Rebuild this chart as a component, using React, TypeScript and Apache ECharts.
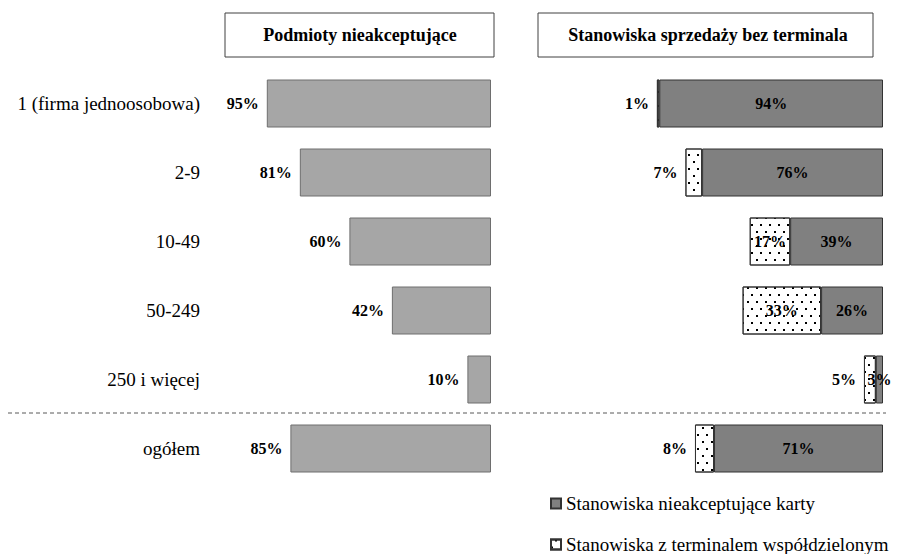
import React, { useEffect, useRef } from "react";
import * as echarts from "echarts";

const categories = [
  "1 (firma jednoosobowa)",
  "2-9",
  "10-49",
  "50-249",
  "250 i więcej",
  "ogółem",
];
const leftTitle = "Podmioty nieakceptujące";
const rightTitle = "Stanowiska sprzedaży bez terminala";
const nonAcceptingEntities = [95, 81, 60, 42, 10, 85];
const seriesNoCards = "Stanowiska nieakceptujące karty";
const seriesShared = "Stanowiska z terminalem współdzielonym";
const noCardsValues = [94, 76, 39, 26, 3, 71];
const sharedValues = [1, 7, 17, 33, 5, 8];
const sharedInsideLabel = [false, false, true, true, false, false];

const FONT = "'Liberation Serif', 'Times New Roman', serif";

export default function App() {
  const ref = useRef<HTMLDivElement>(null);
  useEffect(() => {
    document.body.style.margin = "0";
    const chart = echarts.init(ref.current!, null, { renderer: "svg" });
    const top = 69;
    const height = 414;
    const valueLabel = {
      show: true,
      formatter: "{c}%",
      fontFamily: FONT,
      fontWeight: "bold",
      fontSize: 16,
      color: "#000",
    };
    const legendBase = {
      left: 545,
      icon: "rect",
      itemWidth: 10,
      itemHeight: 10,
      itemGap: 0,
      textStyle: { fontFamily: FONT, fontSize: 19, color: "#000" },
    };
    chart.setOption({
      animation: false,
      backgroundColor: "#fff",
      textStyle: { fontFamily: FONT },
      grid: [
        { left: 255, width: 236, top, height },
        { left: 645, width: 238, top, height },
      ],
      xAxis: [
        { gridIndex: 0, type: "value", min: 0, max: 100, inverse: true, show: false },
        { gridIndex: 1, type: "value", min: 0, max: 100, inverse: true, show: false },
      ],
      yAxis: [
        {
          gridIndex: 0,
          type: "category",
          data: categories,
          inverse: true,
          position: "left",
          axisLine: { show: false, onZero: false },
          axisTick: { show: false },
          splitLine: { show: false },
          axisLabel: {
            margin: 55,
            fontFamily: FONT,
            fontSize: 19,
            color: "#000",
          },
        },
        {
          gridIndex: 1,
          type: "category",
          data: categories,
          inverse: true,
          show: false,
        },
      ],
      legend: [
        { ...legendBase, top: 489, data: [seriesNoCards] },
        { ...legendBase, top: 530, data: [seriesShared] },
      ],
      series: [
        {
          type: "bar",
          name: leftTitle,
          xAxisIndex: 0,
          yAxisIndex: 0,
          data: nonAcceptingEntities,
          barWidth: 48,
          itemStyle: { color: "#a6a6a6", borderColor: "#6e6e6e", borderWidth: 1 },
          label: { ...valueLabel, position: "left", distance: 8 },
        },
        {
          type: "bar",
          name: seriesNoCards,
          xAxisIndex: 1,
          yAxisIndex: 1,
          stack: "r",
          data: noCardsValues,
          barWidth: 48,
          itemStyle: { color: "#808080", borderColor: "#333", borderWidth: 1 },
          label: { ...valueLabel, position: "inside" },
        },
        {
          type: "bar",
          name: seriesShared,
          xAxisIndex: 1,
          yAxisIndex: 1,
          stack: "r",
          barWidth: 48,
          data: sharedValues.map((v, i) => ({
            value: v,
            label: sharedInsideLabel[i]
              ? { position: "inside" }
              : { position: "left", distance: 8 },
          })),
          itemStyle: {
            color: "#fff",
            borderColor: "#333",
            borderWidth: 1,
            decal: {
              symbol: "rect",
              symbolSize: 1,
              color: "#000",
              dashArrayX: [
                [1.5, 6.5],
                [0, 4, 1.5, 2.5],
              ],
              dashArrayY: [1.5, 4.5],
              rotation: 0,
            },
          },
          label: { ...valueLabel },
        },
      ],
      graphic: [
        {
          type: "rect",
          shape: { x: 225, y: 13, width: 269, height: 44 },
          style: { fill: "#fff", stroke: "#404040", lineWidth: 1 },
        },
        {
          type: "text",
          x: 360,
          y: 35,
          style: {
            text: leftTitle,
            font: `bold 18px ${FONT}`,
            fill: "#000",
            align: "center",
            verticalAlign: "middle",
          },
        },
        {
          type: "rect",
          shape: { x: 538, y: 13, width: 335, height: 44 },
          style: { fill: "#fff", stroke: "#404040", lineWidth: 1 },
        },
        {
          type: "text",
          x: 708,
          y: 35,
          style: {
            text: rightTitle,
            font: `bold 18px ${FONT}`,
            fill: "#000",
            align: "center",
            verticalAlign: "middle",
          },
        },
        {
          type: "line",
          shape: { x1: 8, y1: 413, x2: 886, y2: 413 },
          style: { stroke: "#595959", lineWidth: 1, lineDash: [4, 3] },
        },
      ],
    });
    return () => chart.dispose();
  }, []);
  return <div ref={ref} style={{ width: 900, height: 554 }} />;
}
